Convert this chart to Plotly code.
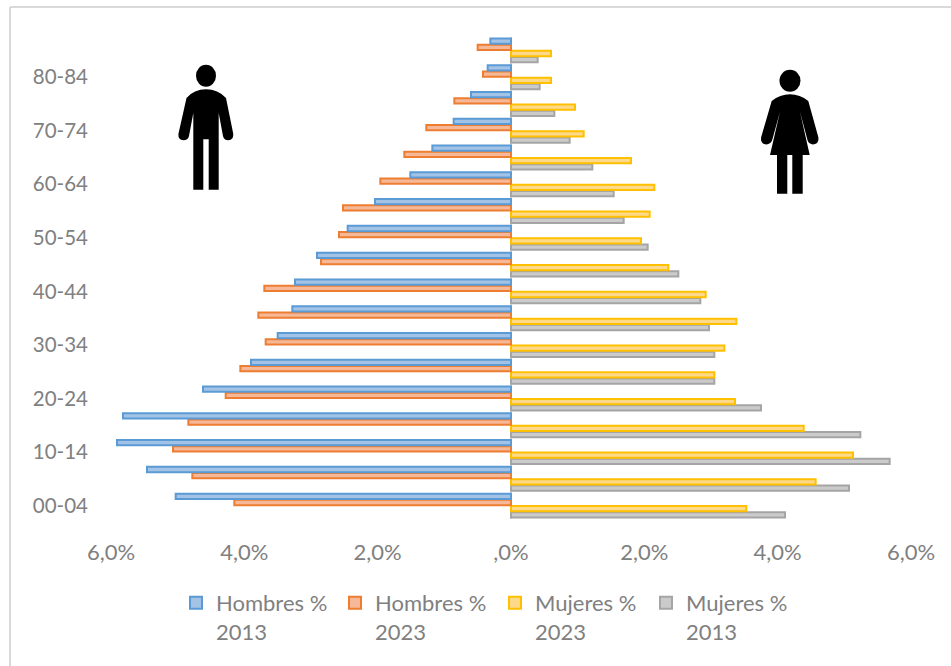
import re
import plotly.graph_objects as go

ages = ["00-04","05-09","10-14","15-19","20-24","25-29","30-34","35-39","40-44",
        "45-49","50-54","55-59","60-64","65-69","70-74","75-79","80-84","85+"]
shown_ages = ["00-04","10-14","20-24","30-34","40-44","50-54","60-64","70-74","80-84"]

hombres_2013 = [-5.03,-5.46,-5.91,-5.82,-4.62,-3.90,-3.50,-3.28,-3.24,-2.91,-2.45,-2.04,-1.51,-1.18,-0.86,-0.60,-0.35,-0.31]
hombres_2023 = [-4.15,-4.78,-5.07,-4.84,-4.28,-4.06,-3.68,-3.79,-3.70,-2.85,-2.58,-2.52,-1.96,-1.60,-1.27,-0.85,-0.42,-0.50]
mujeres_2023 = [3.53,4.57,5.13,4.39,3.36,3.05,3.20,3.38,2.92,2.36,1.95,2.08,2.15,1.80,1.09,0.96,0.60,0.60]
mujeres_2013 = [4.11,5.07,5.68,5.24,3.75,3.05,3.05,2.97,2.84,2.51,2.05,1.69,1.54,1.22,0.88,0.65,0.43,0.40]

x_ticks = [-6,-4,-2,0,2,4,6]
x_labels = ["6,0%","4,0%","2,0%",",0%","2,0%","4,0%","6,0%"]

L, R, T, B = 111, 911, 37, 519
TXT = "#808080"

def px(x): return (x - L) / (R - L)
def py(y): return (B - y) / (B - T)

def path(d):
    toks = re.findall(r"[MLQZ]|-?\d+\.?\d*", d)
    out, is_x = [], True
    for t in toks:
        if t in "MLQZ":
            out.append(t); is_x = True
        else:
            v = float(t)
            out.append(f"{px(v):.5f}" if is_x else f"{py(v):.5f}")
            is_x = not is_x
    return " ".join(out)

man = ("M206 89.3 Q218 89.3 226 98 L233.3 134 Q233.5 140 228.3 140.3 Q224 140.3 223 136 "
       "L218.7 113 L218.7 189.7 L208.7 189.7 L208.7 139.3 L203.3 139.3 L203.3 189.7 L193.3 189.7 L193.3 113 "
       "L189 136 Q188 140.3 183.3 140.3 Q178 140 178.4 134 L186.5 98 Q194 89.3 206 89.3 Z")
woman = ("M790 94.3 Q800 94.3 808.3 101 L818.3 137 Q819.5 144 812.7 144.5 Q808 144 807 138.3 L800 111.7 "
         "L809.7 155 L802.7 155 L802.7 193.7 L792.3 193.7 L792.3 155 L787.3 155 L787.3 193.7 L777 193.7 L777 155 L770 155 "
         "L780 111.7 L772.7 138.3 Q771.5 144 766.7 144.5 Q760 144 761.2 137 L771.7 101 Q780 94.3 790 94.3 Z")

def head(cx, cy, rx, ry):
    return dict(type="circle", xref="paper", yref="paper", x0=px(cx-rx), x1=px(cx+rx),
                y0=py(cy+ry), y1=py(cy-ry), fillcolor="black", line_width=0)

series = [
    ("Mujeres %<br>2013", mujeres_2013, "#CBCBCB", "#A5A5A5", "legend4", 646),
    ("Mujeres %<br>2023", mujeres_2023, "#FFD98A", "#FFC000", "legend3", 495),
    ("Hombres %<br>2023", hombres_2023, "#F6B897", "#ED7D31", "legend2", 335),
    ("Hombres %<br>2013", hombres_2013, "#A3C3E6", "#5B9BD5", "legend", 176),
]

fig = go.Figure()
for name, vals, fill, edge, leg, _ in series:
    fig.add_trace(go.Bar(name=name, y=ages, x=vals, orientation="h", legend=leg,
                         marker=dict(color=fill, line=dict(color=edge, width=2))))

legends = {}
for _, _, _, _, leg, lx in series:
    legends[leg] = dict(x=px(lx), y=py(582), xanchor="left", yanchor="top", valign="top",
                        bgcolor="rgba(0,0,0,0)", font=dict(family="Lato", size=22, color=TXT),
                        tracegroupgap=0)

frame = "#D9D9D9"
shapes = [
    dict(type="line", xref="paper", yref="paper", x0=px(10), x1=px(951), y0=py(7), y1=py(7),
         line=dict(color=frame, width=2)),
    dict(type="line", xref="paper", yref="paper", x0=px(10), x1=px(10), y0=py(7), y1=py(666),
         line=dict(color=frame, width=2)),
    head(206, 75.7, 10, 11),
    head(790, 80.7, 10.5, 11),
    dict(type="path", xref="paper", yref="paper", path=path(man), fillcolor="black", line_width=0),
    dict(type="path", xref="paper", yref="paper", path=path(woman), fillcolor="black", line_width=0),
]

fig.update_layout(
    width=951, height=666, autosize=False,
    margin=dict(l=L, r=951-R, t=T, b=666-B),
    paper_bgcolor="white", plot_bgcolor="white",
    barmode="group", bargap=0.07, bargroupgap=0.15,
    showlegend=True,
    font=dict(family="Lato", size=20.5, color=TXT),
    shapes=shapes,
    xaxis=dict(range=[-6,6], tickmode="array", tickvals=x_ticks, ticktext=x_labels,
               tickfont=dict(size=22),
               showgrid=False, zeroline=True, zerolinecolor=frame, zerolinewidth=2,
               showline=False, ticks="", ticklabelstandoff=18),
    yaxis=dict(type="category", categoryorder="array", categoryarray=ages,
               tickmode="array", tickvals=shown_ages, ticktext=shown_ages,
               showgrid=False, showline=False, ticks="", ticklabelstandoff=22),
    **legends,
)
fig.write_html("out.html", config={"displayModeBar": False},
               post_script="document.body.style.margin='0';")
